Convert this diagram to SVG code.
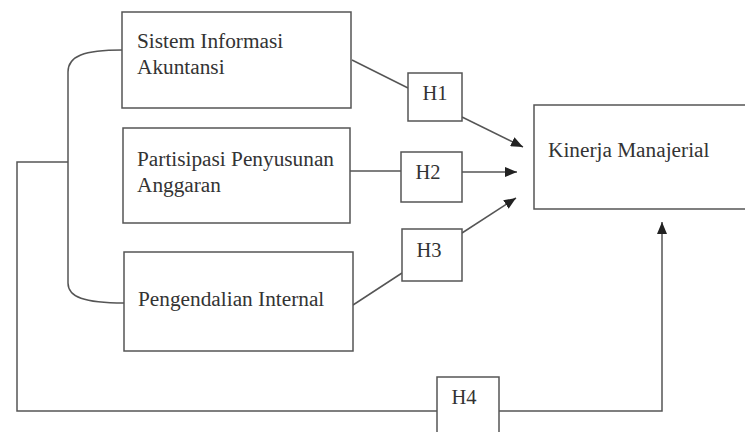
<svg xmlns="http://www.w3.org/2000/svg" width="745" height="432" viewBox="0 0 745 432">
<style>
.box{fill:#fff;stroke:#555;stroke-width:1.5}
.ln{fill:none;stroke:#555;stroke-width:1.5}
.t{font-family:"Liberation Serif","Times New Roman",serif;font-size:21.3px;fill:#333}
.h{font-family:"Liberation Serif","Times New Roman",serif;font-size:20.5px;fill:#333;text-anchor:middle}
</style>
<defs>
<marker id="arr" markerWidth="12" markerHeight="10" refX="12" refY="5" orient="auto" markerUnits="userSpaceOnUse">
<path d="M0,0 L12,5 L0,10 Z" fill="#222"/>
</marker>
</defs>
<rect width="745" height="432" fill="#fff"/>
<g id="connectors">
<path class="ln" d="M122,50 C84,50 68,56 68,72 V283 C68,297 84,303 124,303"/>
<path class="ln" d="M68,162 H17 V411 H437"/>
<path class="ln" d="M499,411 H662 V222" marker-end="url(#arr)"/>
<path class="ln" d="M352,60 L408,88"/>
<path class="ln" d="M462,117 L523,147" marker-end="url(#arr)"/>
<path class="ln" d="M350,171 H401"/>
<path class="ln" d="M462,172 H517" marker-end="url(#arr)"/>
<path class="ln" d="M353,305 L402,273"/>
<path class="ln" d="M462,233 L516,198" marker-end="url(#arr)"/>
</g>
<g id="sia">
<rect class="box" x="122" y="12" width="229" height="96"/>
<text class="t" x="137" y="48">Sistem Informasi</text>
<text class="t" x="137" y="74">Akuntansi</text>
</g>
<g id="ppa">
<rect class="box" x="123" y="128" width="227" height="95"/>
<text class="t" x="137" y="166">Partisipasi Penyusunan</text>
<text class="t" x="137" y="192">Anggaran</text>
</g>
<g id="pi">
<rect class="box" x="124" y="252" width="229" height="99"/>
<text class="t" x="138" y="306">Pengendalian Internal</text>
</g>
<g id="km">
<rect class="box" x="534" y="105" width="220" height="104"/>
<text class="t" x="548" y="157">Kinerja Manajerial</text>
</g>
<g id="h1">
<rect class="box" x="408" y="73" width="54" height="48"/>
<text class="h" x="435" y="100">H1</text>
</g>
<g id="h2">
<rect class="box" x="401" y="152" width="61" height="50"/>
<text class="h" x="428" y="179">H2</text>
</g>
<g id="h3">
<rect class="box" x="402" y="229" width="60" height="52"/>
<text class="h" x="429" y="257">H3</text>
</g>
<g id="h4">
<rect class="box" x="437" y="377" width="62" height="70"/>
<text class="h" x="464" y="404">H4</text>
</g>
</svg>
